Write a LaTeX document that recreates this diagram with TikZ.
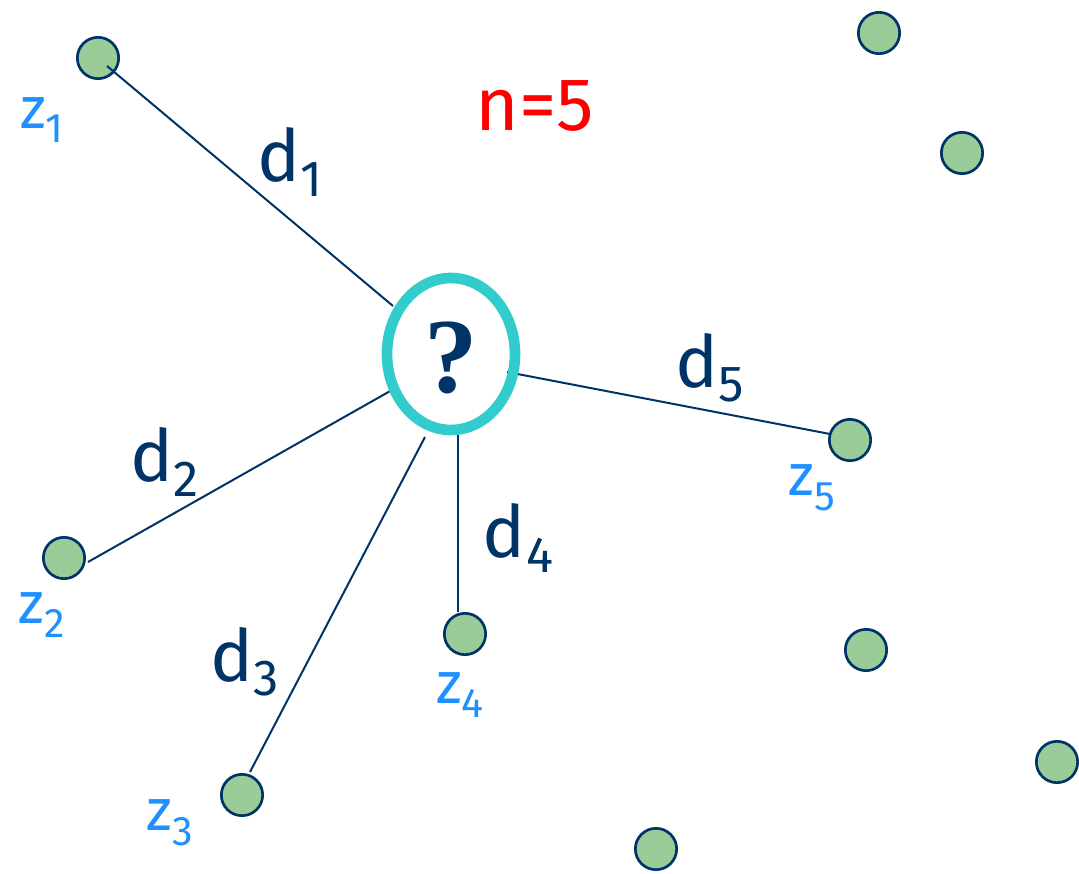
\documentclass[tikz,border=0pt]{standalone}
\usepackage{fontspec}
\setmainfont{Fira Sans}
\newfontfamily\qfont{Liberation Serif}
\usetikzlibrary{shapes.geometric}
\definecolor{navy}{RGB}{0,51,102}
\definecolor{ptfill}{RGB}{153,204,153}
\definecolor{zblue}{RGB}{30,144,255}
\definecolor{cyanring}{RGB}{51,204,204}
\newcommand{\lsub}[2]{#1\raisebox{-0.22em}{\fontsize{#2}{#2}\selectfont}}
\newcommand{\dsub}[1]{d\raisebox{-0.2em}{\fontsize{38}{38}\selectfont #1}}
\newcommand{\zsub}[1]{z\raisebox{-0.25em}{\fontsize{31}{31}\selectfont #1}}
\begin{document}
\begin{tikzpicture}[x=0.75pt,y=-0.75pt,
  pt/.style={circle,draw=navy,fill=ptfill,line width=2pt,minimum size=31pt,inner sep=0pt},
  conn/.style={draw=navy,line width=1.5pt},
  dlab/.style={text=navy,font=\fontsize{54}{54}\selectfont,inner sep=0pt},
  zlab/.style={text=zblue,font=\fontsize{44}{44}\selectfont,inner sep=0pt}]
\useasboundingbox (0,0) rectangle (1079,874);
% points
\node[pt] (z1) at (98,58) {};
\node[pt] (p6) at (879,33) {};
\node[pt] (p7) at (962,153) {};
\node[pt] (z5) at (850,440) {};
\node[pt] (z2) at (64,558) {};
\node[pt] (z4) at (465,634) {};
\node[pt] (p8) at (866,650) {};
\node[pt] (p9) at (1057,762) {};
\node[pt] (z3) at (242,795) {};
\node[pt] (p10) at (656,849) {};
% connector end points
\coordinate (a1) at (393,306);
\coordinate (b1) at (107,66);
\coordinate (a5) at (507,372);
\coordinate (b5) at (830,434);
\coordinate (a2) at (392,390);
\coordinate (b2) at (88,562);
\coordinate (a3) at (425,437);
\coordinate (b3) at (250,772);
\coordinate (a4) at (458,435);
\coordinate (b4) at (458,612);
\draw[conn] (a1) -- (b1);
\draw[conn] (a5) -- (b5);
\draw[conn] (a2) -- (b2);
\draw[conn] (a3) -- (b3);
\draw[conn] (a4) -- (b4);
% unknown point
\node[ellipse,draw=cyanring,line width=8pt,minimum width=96pt,minimum height=114pt,inner sep=0pt] (q) at (451,354) {};
\node[text=navy,font=\qfont\bfseries\fontsize{80}{80}\selectfont] at (451,358) {?};
% labels
\node[dlab] (d1) at (290,162) {\dsub{1}};
\node[dlab] (d2) at (165,462) {\dsub{2}};
\node[dlab] (d3) at (245,662) {\dsub{3}};
\node[dlab] (d4) at (518,538) {\dsub{4}};
\node[dlab] (d5) at (710,368) {\dsub{5}};
\node[zlab] (lz1) at (42,120) {\zsub{1}};
\node[zlab] (lz2) at (42,615) {\zsub{2}};
\node[zlab] (lz3) at (170,823) {\zsub{3}};
\node[zlab] (lz4) at (460,695) {\zsub{4}};
\node[zlab] (lz5) at (812,488) {\zsub{5}};
\node[text=red,font=\fontsize{56}{56}\selectfont] (n) at (535,106) {n=5};
\end{tikzpicture}
\end{document}
